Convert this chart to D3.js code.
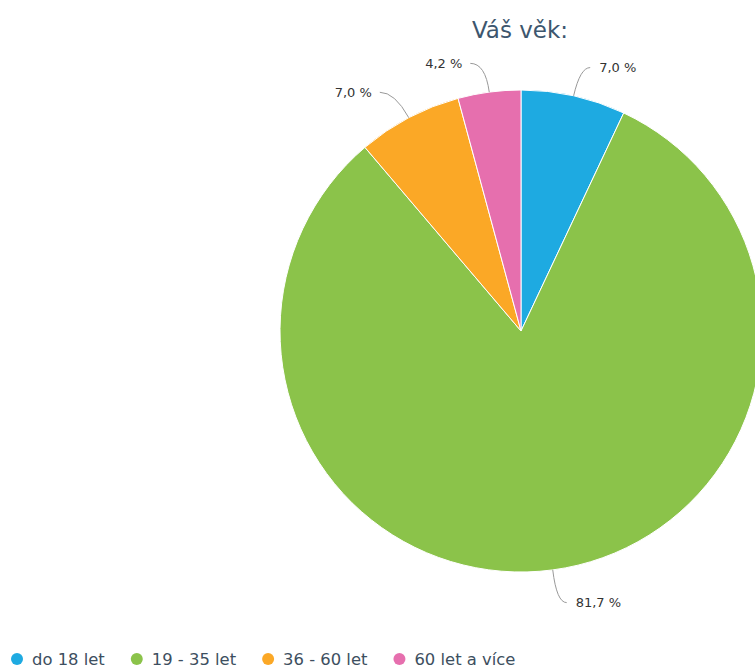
<!DOCTYPE html>
<html>
<head>
<meta charset="utf-8">
<script src="https://cdn.jsdelivr.net/npm/d3@7"></script>
<style>
  html, body { margin: 0; padding: 0; background: #fff; }
  svg { display: block; font-family: "DejaVu Sans", sans-serif; }
</style>
</head>
<body>
<svg id="chart"></svg>
<script>
// data
const categories = ["do 18 let", "19 - 35 let", "36 - 60 let", "60 let a více"];
const values = [7.0, 81.7, 7.0, 4.2];
const labels = ["7,0 %", "81,7 %", "7,0 %", "4,2 %"];
const colors = ["#1eaae1", "#8bc34a", "#fba826", "#e66fae"];

const width = 755;
const height = 668;
const cx = 521;
const cy = 331;
const radius = 241;

const svg = d3.select("#chart")
  .attr("width", width)
  .attr("height", height);

// titulek
svg.append("text")
  .attr("x", 520)
  .attr("y", 38)
  .attr("text-anchor", "middle")
  .attr("font-size", 23)
  .attr("fill", "#3d566e")
  .text("Váš věk:");

const data = categories.map((c, i) => ({ cat: c, value: values[i], label: labels[i], color: colors[i] }));

const pie = d3.pie()
  .value(d => d.value)
  .sort(null);

const arc = d3.arc()
  .innerRadius(0)
  .outerRadius(radius);

const g = svg.append("g")
  .attr("transform", `translate(${cx},${cy})`);

const arcs = pie(data);

g.selectAll("path.slice")
  .data(arcs)
  .enter()
  .append("path")
  .attr("class", "slice")
  .attr("d", arc)
  .attr("fill", d => d.data.color)
  .attr("stroke", "#fff")
  .attr("stroke-width", 1);

// popisky s konektory
const labelDist = 30;
arcs.forEach(d => {
  const a = (d.startAngle + d.endAngle) / 2;
  const sx = Math.sin(a), sy = -Math.cos(a);
  const right = sx >= 0;
  const p0 = [sx * radius, sy * radius];
  const ly = sy * (radius + labelDist + 1) + 2;
  const corner = [sx * (radius + labelDist), ly];
  const end = [corner[0] + (right ? 10 : -15), ly];

  g.append("path")
    .attr("d", `M${p0[0]},${p0[1]} Q${corner[0]},${corner[1]} ${end[0]},${end[1]}`)
    .attr("fill", "none")
    .attr("stroke", "#999")
    .attr("stroke-width", 1);

  g.append("text")
    .attr("x", end[0] + (right ? 9 : -8))
    .attr("y", ly)
    .attr("dy", "0.35em")
    .attr("text-anchor", right ? "start" : "end")
    .attr("font-size", 13)
    .attr("fill", "#333")
    .text(d.data.label);
});

// legenda
const legend = svg.append("g")
  .attr("transform", "translate(17,659)");

let lx = 0;
data.forEach(d => {
  const item = legend.append("g").attr("transform", `translate(${lx},0)`);
  item.append("circle")
    .attr("r", 6)
    .attr("fill", d.color);
  const t = item.append("text")
    .attr("x", 15)
    .attr("dy", "0.35em")
    .attr("font-size", 16.4)
    .attr("fill", "#3d4f60")
    .text(d.cat);
  lx += 15 + t.node().getComputedTextLength() + 32;
});
</script>
</body>
</html>
